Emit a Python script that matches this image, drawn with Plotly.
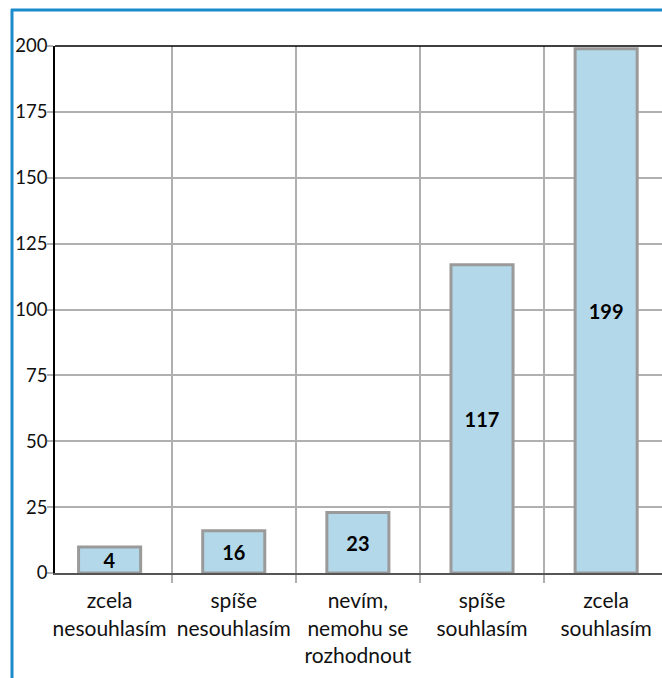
import plotly.graph_objects as go

categories = [
    "zcela<br>nesouhlasím",
    "spíše<br>nesouhlasím",
    "nevím,<br>nemohu se<br>rozhodnout",
    "spíše<br>souhlasím",
    "zcela<br>souhlasím",
]
values = [4, 16, 23, 117, 199]
y_ticks = [0, 25, 50, 75, 100, 125, 150, 175, 200]

# layout (pixels)
W, H = 662, 678
L, R, T, B = 55, 0, 46, 105
plot_w = W - L - R
plot_h = H - T - B
Y_MAX = 200
# minimum drawn bar length (like Highcharts minPointLength), in px
MIN_BAR_PX = 26
min_units = MIN_BAR_PX * Y_MAX / plot_h
drawn = [max(v, min_units) for v in values]

FONT = "Lato"
BLUE = "#1b8bcb"

fig = go.Figure(
    go.Bar(
        x=categories,
        y=drawn,
        customdata=values,
        text=[str(v) for v in values],
        textposition="inside",
        insidetextanchor="middle",
        textangle=0,
        constraintext="none",
        textfont=dict(family=FONT, size=20, color="black", weight="bold"),
        marker=dict(color="#b3d8ea", line=dict(color="#9a9a9a", width=3)),
        hovertemplate="%{x}: %{customdata}<extra></extra>",
    )
)


def px_x(px):
    return (px - L) / plot_w


def px_y(py):
    return 1 + (T - py) / plot_h


fig.update_layout(
    width=W,
    height=H,
    margin=dict(l=L, r=R, t=T, b=B, pad=0),
    paper_bgcolor="white",
    plot_bgcolor="white",
    showlegend=False,
    bargap=0.5,
    uniformtext=dict(mode="show", minsize=8),
    font=dict(family=FONT, size=20, color="#111"),
    xaxis=dict(
        type="category",
        range=[-0.44, 4.45],
        tickson="boundaries",
        ticks="outside",
        ticklen=8,
        tickcolor="#b0b0b0",
        tickwidth=1.5,
        showgrid=True,
        gridcolor="#b0b0b0",
        gridwidth=1.5,
        showline=True,
        linecolor="#555555",
        linewidth=2,
        ticklabelstandoff=8,
        tickfont=dict(family=FONT, size=21, color="#111"),
    ),
    yaxis=dict(
        range=[0, Y_MAX],
        tickvals=y_ticks,
        ticks="outside",
        ticklen=6,
        tickcolor="#b0b0b0",
        tickwidth=1.5,
        showgrid=True,
        gridcolor="#b0b0b0",
        gridwidth=1.5,
        zeroline=False,
        showline=True,
        linecolor="black",
        linewidth=1.5,
        ticklabelstandoff=-4,
        tickfont=dict(family=FONT, size=18.5, color="#111"),
    ),
    shapes=[
        # top border of plot area
        dict(type="line", xref="paper", yref="paper", x0=0, x1=1, y0=1, y1=1,
             line=dict(color="black", width=1.5)),
        # blue frame (left and top)
        dict(type="line", xref="paper", yref="paper",
             x0=px_x(12), x1=px_x(12), y0=px_y(9), y1=px_y(H + 5),
             line=dict(color=BLUE, width=3)),
        dict(type="line", xref="paper", yref="paper",
             x0=px_x(11), x1=px_x(W + 5), y0=px_y(10), y1=px_y(10),
             line=dict(color=BLUE, width=3)),
    ],
)

fig.write_html(
    "out.html",
    config={"displayModeBar": False},
    post_script="document.body.style.margin='0';document.body.style.overflow='hidden';",
)
